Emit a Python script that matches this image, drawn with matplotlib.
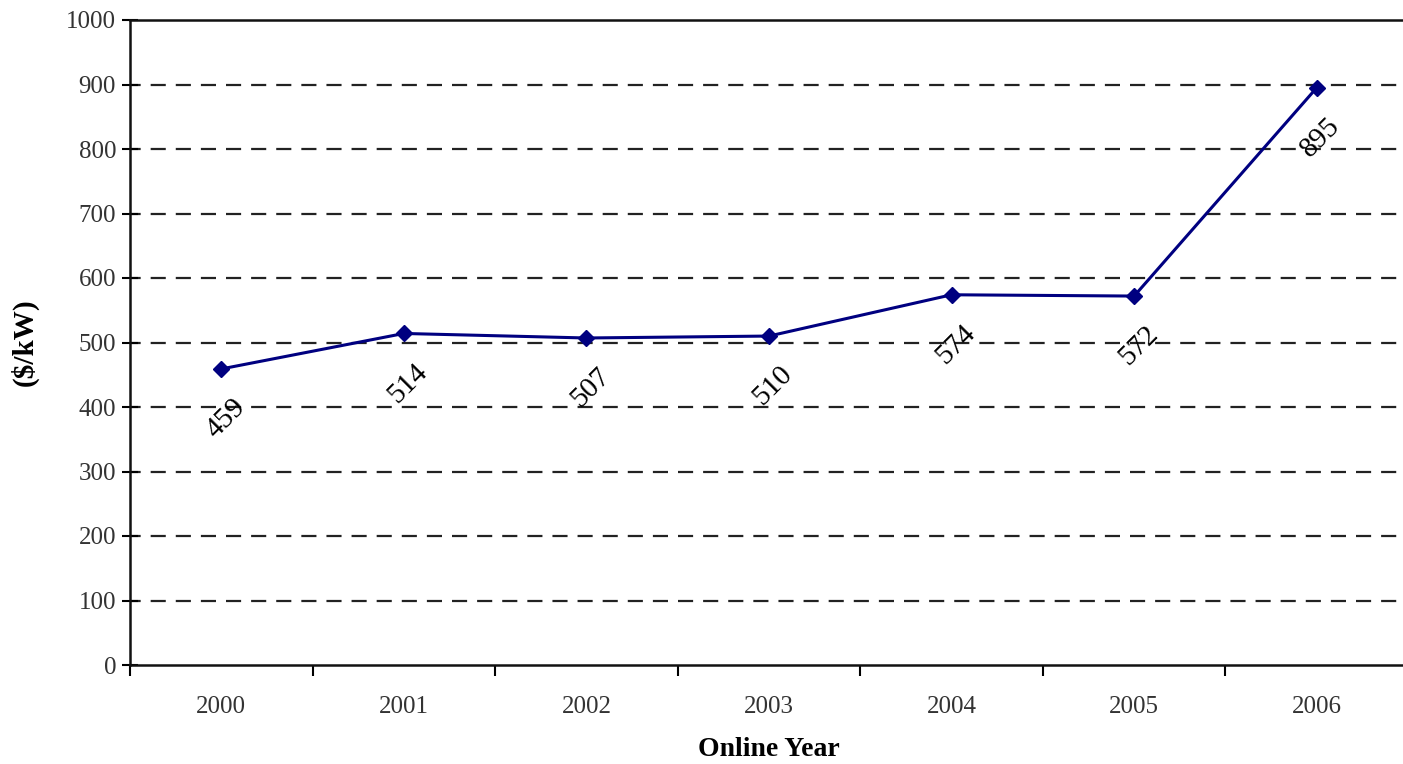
import matplotlib
matplotlib.use("Agg")
import matplotlib.pyplot as plt
import numpy as np

years = ["2000", "2001", "2002", "2003", "2004", "2005", "2006"]
values = [459, 514, 507, 510, 574, 572, 895]
yticks = [0, 100, 200, 300, 400, 500, 600, 700, 800, 900, 1000]

plt.rcParams['font.family'] = ['Liberation Serif', 'DejaVu Serif']

fig = plt.figure(figsize=(14.03, 7.64), dpi=100)
ax = fig.add_axes([130/1403, 99/764, 1278/1403, 645/764])

x = np.arange(len(years))
ax.set_xlim(-0.5, len(years) - 0.5)
ax.set_ylim(0, 1000)

for yv in yticks[1:-1]:
    ax.axhline(yv, color='#222222', lw=1.6, ls=(2, (6.8, 4.5)), zorder=1)

ax.plot(x, values, color='#000080', lw=2.2, marker='D', markersize=8, zorder=3)

for xi, v in zip(x, values):
    ax.annotate(str(v), (xi, v), xytext=(3, -36), textcoords='offset points',
                rotation=45, ha='center', va='center', fontsize=21,
                rotation_mode='anchor', color='black', zorder=4)

ax.set_yticks(yticks)
ax.set_yticklabels([str(t) for t in yticks], fontsize=18, color='#333333')
ax.tick_params(axis='y', direction='inout', length=12, width=1.5, pad=4)

ax.set_xticks(np.arange(-0.5, len(years)), minor=False)
ax.set_xticklabels([])
ax.set_xticks(x, minor=True)
ax.set_xticklabels(years, minor=True, fontsize=18, color='#333333')
ax.tick_params(axis='x', which='major', direction='out', length=8, width=1.5)
ax.tick_params(axis='x', which='minor', length=0, pad=22)

for s in ['left', 'bottom', 'top', 'right']:
    ax.spines[s].set_linewidth(1.8)
    ax.spines[s].set_color('#111111')

ax.set_xlabel('Online Year', fontsize=20, fontweight='bold', labelpad=14)
ax.set_ylabel('($/kW)', fontsize=21, fontweight='bold', labelpad=20)

fig.savefig('out.png', dpi=100)
